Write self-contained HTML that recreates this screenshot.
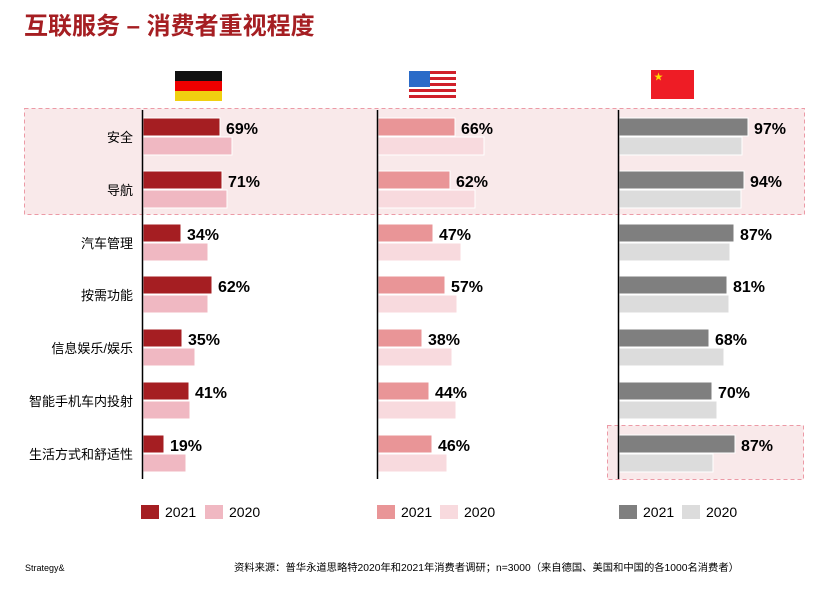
<!DOCTYPE html><html><head><meta charset="utf-8"><style>body{margin:0;background:#fff}svg{display:block}text{font-family:"Liberation Sans","Noto Sans CJK SC",sans-serif}</style></head><body>
<svg width="839" height="595" viewBox="0 0 839 595" xmlns="http://www.w3.org/2000/svg">
<text x="24" y="34" font-size="24" font-weight="bold" fill="#a51e22">互联服务 – 消费者重视程度</text>
<rect x="24.5" y="108.5" width="780" height="106" fill="#f9e9ea" stroke="#ec9aa6" stroke-dasharray="4,3"/>
<rect x="607.5" y="425.5" width="196" height="54" fill="#f9e9ea" stroke="#ec9aa6" stroke-dasharray="4,3"/>
<rect x="175" y="71" width="47" height="10" fill="#111"/><rect x="175" y="81" width="47" height="10" fill="#e00"/><rect x="175" y="91" width="47" height="10" fill="#f0d010"/>
<rect x="409" y="71" width="47" height="30" fill="#fff"/>
<g fill="#d0202a"><rect x="409" y="71" width="47" height="3"/><rect x="409" y="77" width="47" height="3"/><rect x="409" y="83" width="47" height="3"/><rect x="409" y="89" width="47" height="3"/><rect x="409" y="95" width="47" height="3"/></g>
<rect x="409" y="71" width="21" height="16" fill="#2a6bc8"/>
<rect x="651" y="70" width="43" height="29" fill="#ee1c25"/><text x="654" y="80" font-size="9" fill="#ffde00">★</text>
<g font-size="13" text-anchor="end" fill="#000">
<text x="133" y="142">安全</text><text x="133" y="195">导航</text><text x="133" y="248">汽车管理</text><text x="133" y="300">按需功能</text><text x="133" y="353">信息娱乐/娱乐</text><text x="133" y="406">智能手机车内投射</text><text x="133" y="459">生活方式和舒适性</text>
</g>
<g stroke="#fff" stroke-width="1">
<g fill="#a51e22"><rect x="143" y="118" width="77" height="18"/><rect x="143" y="171" width="79" height="18"/><rect x="143" y="224" width="38" height="18"/><rect x="143" y="276" width="69" height="18"/><rect x="143" y="329" width="39" height="18"/><rect x="143" y="382" width="46" height="18"/><rect x="143" y="435" width="21" height="18"/></g>
<g fill="#f0b8c2"><rect x="143" y="137" width="89" height="18"/><rect x="143" y="190" width="84" height="18"/><rect x="143" y="243" width="65" height="18"/><rect x="143" y="295" width="65" height="18"/><rect x="143" y="348" width="52" height="18"/><rect x="143" y="401" width="47" height="18"/><rect x="143" y="454" width="43" height="18"/></g>
<g fill="#e99597"><rect x="378" y="118" width="77" height="18"/><rect x="378" y="171" width="72" height="18"/><rect x="378" y="224" width="55" height="18"/><rect x="378" y="276" width="67" height="18"/><rect x="378" y="329" width="44" height="18"/><rect x="378" y="382" width="51" height="18"/><rect x="378" y="435" width="54" height="18"/></g>
<g fill="#f8dade"><rect x="378" y="137" width="106" height="18"/><rect x="378" y="190" width="97" height="18"/><rect x="378" y="243" width="83" height="18"/><rect x="378" y="295" width="79" height="18"/><rect x="378" y="348" width="74" height="18"/><rect x="378" y="401" width="78" height="18"/><rect x="378" y="454" width="69" height="18"/></g>
<g fill="#7f7f7f"><rect x="619" y="118" width="129" height="18"/><rect x="619" y="171" width="125" height="18"/><rect x="619" y="224" width="115" height="18"/><rect x="619" y="276" width="108" height="18"/><rect x="619" y="329" width="90" height="18"/><rect x="619" y="382" width="93" height="18"/><rect x="619" y="435" width="116" height="18"/></g>
<g fill="#dcdcdc"><rect x="619" y="137" width="123" height="18"/><rect x="619" y="190" width="122" height="18"/><rect x="619" y="243" width="111" height="18"/><rect x="619" y="295" width="110" height="18"/><rect x="619" y="348" width="105" height="18"/><rect x="619" y="401" width="98" height="18"/><rect x="619" y="454" width="94" height="18"/></g>
</g>
<g stroke="#000" stroke-width="1.5"><line x1="142.5" y1="110" x2="142.5" y2="479"/><line x1="377.5" y1="110" x2="377.5" y2="479"/><line x1="618.5" y1="110" x2="618.5" y2="479"/></g>
<g font-size="16" font-weight="bold" fill="#000">
<text x="226" y="134">69%</text><text x="228" y="187">71%</text><text x="187" y="240">34%</text><text x="218" y="292">62%</text><text x="188" y="345">35%</text><text x="195" y="398">41%</text><text x="170" y="451">19%</text>
<text x="461" y="134">66%</text><text x="456" y="187">62%</text><text x="439" y="240">47%</text><text x="451" y="292">57%</text><text x="428" y="345">38%</text><text x="435" y="398">44%</text><text x="438" y="451">46%</text>
<text x="754" y="134">97%</text><text x="750" y="187">94%</text><text x="740" y="240">87%</text><text x="733" y="292">81%</text><text x="715" y="345">68%</text><text x="718" y="398">70%</text><text x="741" y="451">87%</text>
</g>
<g font-size="14" fill="#000">
<rect x="141" y="505" width="18" height="14" fill="#a51e22"/><text x="165" y="517">2021</text>
<rect x="205" y="505" width="18" height="14" fill="#f0b8c2"/><text x="229" y="517">2020</text>
<rect x="377" y="505" width="18" height="14" fill="#e99597"/><text x="401" y="517">2021</text>
<rect x="440" y="505" width="18" height="14" fill="#f8dade"/><text x="464" y="517">2020</text>
<rect x="619" y="505" width="18" height="14" fill="#7f7f7f"/><text x="643" y="517">2021</text>
<rect x="682" y="505" width="18" height="14" fill="#dcdcdc"/><text x="706" y="517">2020</text>
</g>
<text x="25" y="571" font-size="9" fill="#000">Strategy&amp;</text>
<text x="234" y="571" font-size="10.3" fill="#000">资料来源：普华永道思略特2020年和2021年消费者调研；n=3000（来自德国、美国和中国的各1000名消费者）</text>
</svg></body></html>
